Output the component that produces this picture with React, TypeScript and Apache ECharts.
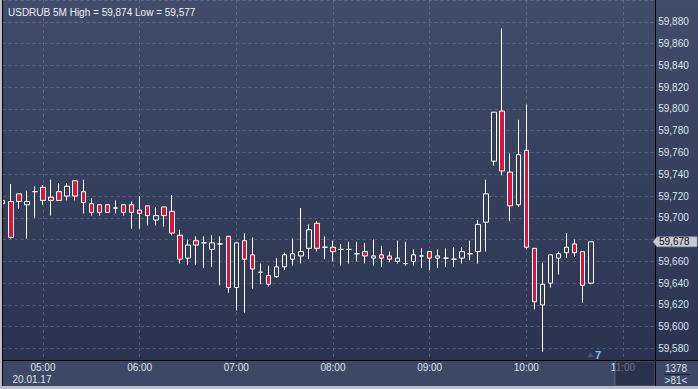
import React, { useEffect, useRef } from 'react';
import * as echarts from 'echarts';

const symbol = 'USDRUB';
const period = '5M';
const dateLabel = '20.01.17';
const counterTop = '1378';
const counterBottom = '>81<';
const markerText = '7';

const times = [
  '04:35', '04:40', '04:45', '04:50', '04:55',
  '05:00', '05:05', '05:10', '05:15', '05:20', '05:25', '05:30', '05:35', '05:40', '05:45', '05:50', '05:55',
  '06:00', '06:05', '06:10', '06:15', '06:20', '06:25', '06:30', '06:35', '06:40', '06:45', '06:50', '06:55',
  '07:00', '07:05', '07:10', '07:15', '07:20', '07:25', '07:30', '07:35', '07:40', '07:45', '07:50', '07:55',
  '08:00', '08:05', '08:10', '08:15', '08:20', '08:25', '08:30', '08:35', '08:40', '08:45', '08:50', '08:55',
  '09:00', '09:05', '09:10', '09:15', '09:20', '09:25', '09:30', '09:35', '09:40', '09:45', '09:50', '09:55',
  '10:00', '10:05', '10:10', '10:15', '10:20', '10:25', '10:30', '10:35', '10:40', '10:45', '10:50', '10:55',
  '11:00', '11:05', '11:10', '11:15', '11:20',
];

const opens = [
  59.716, 59.715, 59.722, 59.712, 59.724,
  59.728, 59.719, 59.724, 59.720, 59.734, 59.724, 59.713, 59.712, 59.712, 59.709, 59.712, 59.712,
  59.707, 59.711, 59.698, 59.710, 59.706, 59.684, 59.663, 59.679, 59.677, 59.671, 59.676, 59.683,
  59.636, 59.679, 59.666, 59.650, 59.647, 59.646, 59.655, 59.662, 59.665, 59.672, 59.695, 59.673,
  59.673, 59.671, 59.671, 59.667, 59.669, 59.663, 59.666, 59.665, 59.660, 59.658, 59.660, 59.665,
  59.669, 59.663, 59.663, 59.662, 59.663, 59.667, 59.669, 59.696, 59.752, 59.798, 59.742, 59.712,
  59.762, 59.672, 59.620, 59.640, 59.663, 59.668, 59.676, 59.669, 59.640,
];

const closes = [
  59.713, 59.682, 59.715, 59.715, 59.724,
  59.716, 59.716, 59.716, 59.729, 59.720, 59.714, 59.705, 59.705, 59.705, 59.709, 59.705, 59.705,
  59.704, 59.702, 59.702, 59.702, 59.686, 59.662, 59.675, 59.675, 59.677, 59.677, 59.676, 59.636,
  59.677, 59.662, 59.653, 59.650, 59.639, 59.655, 59.666, 59.667, 59.669, 59.689, 59.672, 59.673,
  59.669, 59.671, 59.671, 59.667, 59.665, 59.665, 59.663, 59.662, 59.663, 59.658, 59.666, 59.665,
  59.663, 59.665, 59.663, 59.662, 59.669, 59.667, 59.694, 59.722, 59.797, 59.743, 59.711, 59.758,
  59.673, 59.623, 59.639, 59.666, 59.667, 59.673, 59.668, 59.638, 59.678,
];

const lows = [
  59.712, 59.681, 59.708, 59.681, 59.700,
  59.712, 59.702, 59.716, 59.716, 59.716, 59.704, 59.702, 59.702, 59.705, 59.704, 59.702, 59.690,
  59.690, 59.693, 59.693, 59.692, 59.684, 59.658, 59.657, 59.657, 59.654, 59.655, 59.638, 59.631,
  59.615, 59.613, 59.635, 59.639, 59.637, 59.645, 59.652, 59.656, 59.658, 59.662, 59.669, 59.662,
  59.660, 59.656, 59.658, 59.660, 59.658, 59.656, 59.655, 59.659, 59.658, 59.656, 59.656, 59.654,
  59.652, 59.654, 59.655, 59.655, 59.658, 59.661, 59.658, 59.669, 59.748, 59.739, 59.697, 59.710,
  59.671, 59.616, 59.577, 59.636, 59.648, 59.663, 59.664, 59.622, 59.639,
];

const highs = [
  59.717, 59.731, 59.722, 59.725, 59.729,
  59.730, 59.735, 59.732, 59.732, 59.734, 59.735, 59.718, 59.712, 59.712, 59.716, 59.712, 59.715,
  59.720, 59.711, 59.710, 59.710, 59.721, 59.689, 59.680, 59.683, 59.683, 59.684, 59.683, 59.683,
  59.677, 59.686, 59.682, 59.658, 59.656, 59.663, 59.668, 59.681, 59.709, 59.694, 59.697, 59.683,
  59.679, 59.676, 59.678, 59.678, 59.677, 59.680, 59.674, 59.669, 59.679, 59.678, 59.671, 59.672,
  59.669, 59.671, 59.672, 59.673, 59.673, 59.679, 59.698, 59.735, 59.797, 59.874, 59.759, 59.790,
  59.804, 59.672, 59.659, 59.666, 59.669, 59.686, 59.680, 59.669, 59.678,
];

const yMin = 59.56;
const yMax = 59.9;
const yStep = 0.02;
const labelMin = 59.58;
const labelMax = 59.88;

const FONT = '"Liberation Sans", Arial, sans-serif';
const fmt = (v: number) => v.toFixed(3).replace('.', ',');

export default function App() {
  const ref = useRef<HTMLDivElement>(null);

  useEffect(() => {
    if (!ref.current) return;
    const chart = echarts.init(ref.current, undefined, { renderer: 'svg' });
    const candles = opens.map((o, i) => [o, closes[i], lows[i], highs[i]]);
    const hi = Math.max(...highs);
    const lo = Math.min(...lows);
    const lastClose = closes[closes.length - 1];
    const isHour = (_i: number, v: string) => String(v).endsWith(':00');

    chart.setOption({
      animation: false,
      title: {
        text: `${symbol} ${period} High = ${fmt(hi)} Low = ${fmt(lo)}`,
        left: 3,
        top: 2,
        textStyle: { color: '#eef2f8', fontSize: 10, fontWeight: 'normal', fontFamily: FONT },
      },
      grid: { left: 2.7, right: 42.8, top: -3.7, bottom: 18.7, containLabel: false },
      xAxis: [
        {
          type: 'category',
          data: times,
          boundaryGap: false,
          position: 'bottom',
          z: 0,
          axisLine: { show: false },
          axisTick: { show: false },
          axisLabel: { show: false },
          splitLine: {
            show: true,
            interval: isHour,
            lineStyle: { color: 'rgba(115,130,160,0.5)', type: [3, 3], width: 1 },
          },
        },
        {
          type: 'category',
          data: times,
          boundaryGap: false,
          position: 'bottom',
          z: 12,
          axisLine: { show: false },
          axisTick: { show: false },
          splitLine: { show: false },
          axisLabel: {
            interval: isHour,
            margin: -8,
            fontSize: 10,
            fontFamily: FONT,
            color: '#dce4f0',
          },
        },
      ],
      yAxis: {
        type: 'value',
        position: 'right',
        min: yMin,
        max: yMax,
        interval: yStep,
        z: 0,
        axisLine: { show: false },
        axisTick: { show: false },
        axisLabel: {
          margin: 3,
          fontSize: 10,
          fontFamily: FONT,
          color: '#dce4f0',
          formatter: (v: number) =>
            v < labelMin - 0.001 || v > labelMax + 0.001 || Math.abs(v - lastClose) < 0.008 ? '' : fmt(v),
        },
        splitLine: {
          show: true,
          lineStyle: { color: 'rgba(115,130,160,0.5)', type: [3, 3], width: 1 },
        },
      },
      series: [
        {
          type: 'candlestick',
          xAxisIndex: 0,
          yAxisIndex: 0,
          data: candles,
          barWidth: 5,
          z: 2,
          silent: true,
          itemStyle: {
            color: '#323d5b',
            color0: '#dc143c',
            borderColor: '#ffffff',
            borderColor0: '#ffffff',
            borderColorDoji: '#ffffff',
            borderWidth: 1,
          },
        },
      ],
    });

    const py = chart.convertToPixel({ yAxisIndex: 0 }, lastClose) as number;

    chart.setOption({
      graphic: [
        { type: 'rect', z: 10, silent: true, shape: { x: 0, y: 360, width: 698, height: 27 }, style: { fill: '#3c4865' } },
        { type: 'rect', z: 14, silent: true, shape: { x: 615, y: 361, width: 40, height: 25 }, style: { fill: 'rgba(28,36,58,0.6)', stroke: 'rgba(130,140,160,0.5)', lineWidth: 1 } },
        { type: 'line', z: 15, silent: true, shape: { x1: 0, y1: 360.5, x2: 698, y2: 360.5 }, style: { stroke: '#000000', lineWidth: 1 } },
        { type: 'line', z: 15, silent: true, shape: { x1: 655.5, y1: 0, x2: 655.5, y2: 387 }, style: { stroke: '#000000', lineWidth: 1 } },
        { type: 'line', z: 15, silent: true, shape: { x1: 2.5, y1: 0, x2: 2.5, y2: 387 }, style: { stroke: '#000000', lineWidth: 1 } },
        { type: 'rect', z: 16, silent: true, shape: { x: 0, y: 0, width: 2, height: 389 }, style: { fill: '#b9bec8' } },
        { type: 'rect', z: 16, silent: true, shape: { x: 0, y: 386, width: 698, height: 3 }, style: { fill: '#b9bec8' } },
        { type: 'text', z: 15, silent: true, style: { x: 32, y: 379, text: dateLabel, fill: '#dce4f0', font: `10px ${FONT}`, textAlign: 'center', textVerticalAlign: 'middle' } },
        { type: 'text', z: 15, silent: true, style: { x: 676, y: 368, text: counterTop, fill: '#dce4f0', font: `10px ${FONT}`, textAlign: 'center', textVerticalAlign: 'middle' } },
        { type: 'line', z: 15, silent: true, shape: { x1: 664, y1: 374.5, x2: 690, y2: 374.5 }, style: { stroke: '#1c2335', lineWidth: 1 } },
        { type: 'text', z: 15, silent: true, style: { x: 676, y: 380, text: counterBottom, fill: '#dce4f0', font: `10px ${FONT}`, textAlign: 'center', textVerticalAlign: 'middle' } },
        { type: 'polygon', z: 15, silent: true, shape: { points: [[587, 357], [590.5, 353], [594, 357]] }, style: { fill: '#4e5872' } },
        { type: 'text', z: 15, silent: true, style: { x: 598, y: 355, text: markerText, fill: '#86bdf0', font: `bold 11px ${FONT}`, textAlign: 'center', textVerticalAlign: 'middle' } },
        { type: 'polygon', z: 17, silent: true, shape: { points: [[653, py], [657, py - 5], [697, py - 5], [697, py + 5], [657, py + 5]] }, style: { fill: '#c6cad2', stroke: '#9aa0ac', lineWidth: 0.5 } },
        { type: 'text', z: 18, silent: true, style: { x: 659, y: py, text: fmt(lastClose), fill: '#111111', font: `10px ${FONT}`, textAlign: 'left', textVerticalAlign: 'middle' } },
      ],
    });

    return () => chart.dispose();
  }, []);

  return (
    <div
      ref={ref}
      style={{
        position: 'absolute',
        left: 0,
        top: 0,
        width: 698,
        height: 389,
        background: 'linear-gradient(180deg, #404c6a 0px, #2a3451 360px, #3c4865 360px)',
      }}
    />
  );
}
